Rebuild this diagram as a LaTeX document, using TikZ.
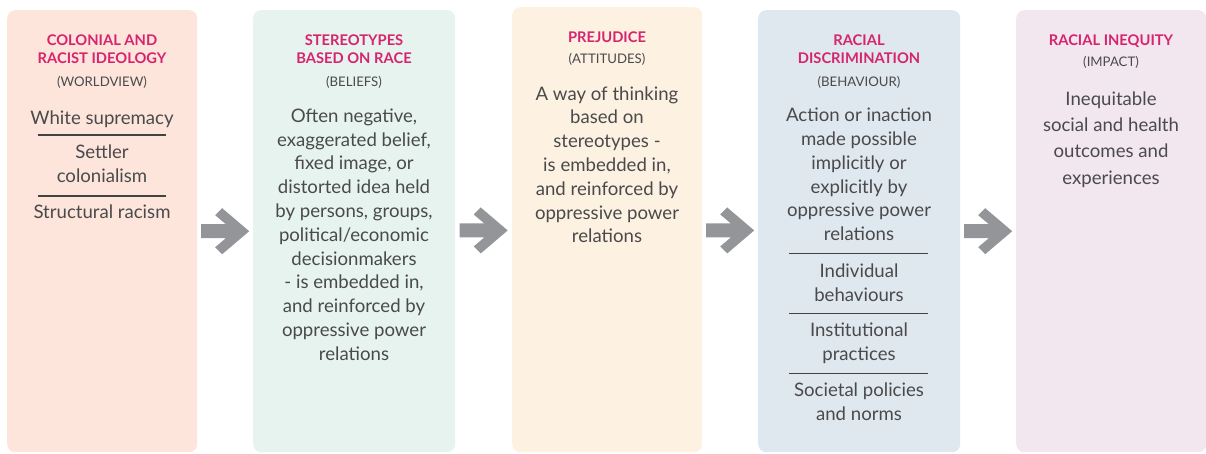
\documentclass[tikz,border=0pt]{standalone}
\usepackage{fontspec}
\setmainfont{Lato}
\usetikzlibrary{calc}
\definecolor{peach}{HTML}{FDE5DC}
\definecolor{mint}{HTML}{E6F3EE}
\definecolor{cream}{HTML}{FDF1E1}
\definecolor{sky}{HTML}{DFE8EE}
\definecolor{lilac}{HTML}{F2E7EF}
\definecolor{rose}{HTML}{D6246F}
\definecolor{ink}{HTML}{4A4A4C}
\definecolor{arrowgray}{HTML}{939598}
\tikzstyle{col}+=[rounded corners=8pt, inner sep=0pt, anchor=north west, minimum width=190pt]
% multi-line nodes: anchor=base sits on the last line
\tikzstyle{T}+=[font=\bfseries\fontsize{14.7}{17.8}\selectfont, text=rose, align=center, anchor=base, inner sep=0pt]
\tikzstyle{S}+=[font=\fontsize{13.2}{15}\selectfont, text=ink, anchor=base, inner sep=0pt]
\tikzstyle{B}+=[font=\fontsize{18.6}{23.8}\selectfont, text=ink, align=center, anchor=base, inner sep=0pt]
\tikzstyle{sep}+=[draw=ink!90!black, line width=1.3pt]
\tikzstyle{arr}+=[fill=arrowgray]

\begin{document}
\begin{tikzpicture}[x=1pt,y=1pt]
        \useasboundingbox (0,0) rectangle (1206,-453);

        % the five columns
        \node[col, fill=peach, minimum height=442pt] (b1) at (7,-10) {};
        \node[col, fill=mint, minimum width=202pt, minimum height=442pt] (b2) at (253,-10) {};
        \node[col, fill=cream, minimum height=445pt] (b3) at (512,-7) {};
        \node[col, fill=sky, minimum width=202pt, minimum height=442pt] (b4) at (758,-10) {};
        \node[col, fill=lilac, minimum height=442pt] (b5) at (1016,-10) {};

        \begin{scope}
            \node[T] (t1) at (102,-63) {COLONIAL AND\\RACIST IDEOLOGY};
            \node[S] (s1) at (102,-86) {(WORLDVIEW)};
            \node[B] (w1) at (102,-124) {White supremacy};
            \draw[sep] (38,-135) -- (166,-135);
            \node[B] (w2) at (102,-182) {Settler\\colonialism};
            \draw[sep] (38,-196) -- (166,-196);
            \node[B] (w3) at (102,-218.3) {Structural racism};
        \end{scope}

        \begin{scope}
            \node[T] (t2) at (354,-63) {STEREOTYPES\\BASED ON RACE};
            \node[S] (s2) at (354,-86) {(BELIEFS)};
            \node[B] (d2) at (354,-360.3) {Often negative,\\exaggerated belief,\\fixed image, or\\distorted idea held\\by persons, groups,\\political/economic\\decisionmakers\\- is embedded in,\\and reinforced by\\oppressive power\\relations};
        \end{scope}

        \begin{scope}
            \node[T] (t3) at (607,-42.3) {PREJUDICE};
            \node[S] (s3) at (607,-63.3) {(ATTITUDES)};
            \node[B] (d3) at (607,-242.8) {A way of thinking\\based on\\stereotypes -\\is embedded in,\\and reinforced by\\oppressive power\\relations};
        \end{scope}

        \begin{scope}
            \node[T] (t4) at (859,-63) {RACIAL\\DISCRIMINATION};
            \node[S] (s4) at (859,-86) {(BEHAVIOUR)};
            \node[B] (d4) at (859,-240.7) {Action or inaction\\made possible\\implicitly or\\explicitly by\\oppressive power\\relations};
            \draw[sep] (789,-253.3) -- (928,-253.3);
            \node[B] (e1) at (859,-301) {Individual\\behaviours};
            \draw[sep] (789,-313.3) -- (928,-313.3);
            \node[B] (e2) at (859,-360.7) {Institutional\\practices};
            \draw[sep] (789,-373.3) -- (928,-373.3);
            \node[B] (e3) at (859,-420.7) {Societal policies\\and norms};
        \end{scope}

        \begin{scope}
            \node[T] (t5) at (1111,-45) {RACIAL INEQUITY};
            \node[S] (s5) at (1111,-66.7) {(IMPACT)};
            \node[B, font=\fontsize{18.6}{26.4}\selectfont] (d5) at (1111,-184.2) {Inequitable\\social and health\\outcomes and\\experiences};
        \end{scope}

        % block arrows between the columns
        \foreach \a/\b in {b1/b2,b2/b3,b3/b4,b4/b5}
            \fill[arr, shift={($(\a.east)!.5!(\b.west)$)}] (-24,7) -- (0.6,7) -- (-10,16) -- (-3,23) -- (24,0)
                -- (-3,-23) -- (-10,-16) -- (0.6,-7) -- (-24,-7) -- cycle;

    \end{tikzpicture}
\end{document}
